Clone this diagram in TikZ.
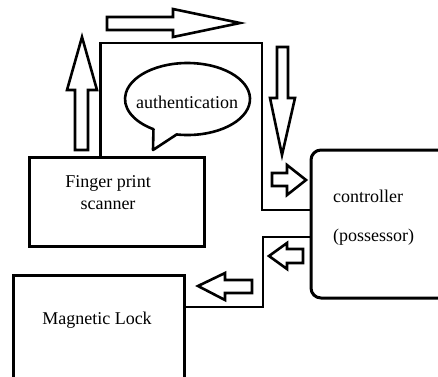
\documentclass[tikz,border=0pt]{standalone}
\usepackage{fontspec}
\setmainfont{Liberation Serif}
\begin{document}
\begin{tikzpicture}[x=1pt,y=-1pt,
    box/.style={draw,line width=3pt,inner sep=0pt},
    wire/.style={line width=2.6pt},
    blockarrow/.style={draw,line width=2.6pt,fill=white,line join=miter},
    txt/.style={font=\fontsize{18}{22}\selectfont,inner sep=0pt}]
        \clip (0,0) rectangle (438,376);

        \node [box,minimum width=175pt,minimum height=89pt] (scanner) at (116.5,201.5) {};
        \node [box,rounded corners=10pt,minimum width=139pt,minimum height=148pt] (ctrl) at (380.5,224) {};
        \node [box,minimum width=171pt,minimum height=115pt] (lock) at (98.5,332.5) {};

        \node [txt,align=center] (scannertext) at (108,193) {Finger print\\scanner};
        \node [txt,align=left,anchor=west,font=\fontsize{18}{39}\selectfont] (ctrltext) at (333,217.5) {controller\\(possessor)};
        \node [txt] (locktext) at (97,320) {Magnetic Lock};

        % speech bubble
        \draw [line width=2.6pt,line join=round] (187.5,99) ++(100:62.5 and 36)
            arc [start angle=100,end angle=-237,x radius=62.5,y radius=36]
            -- (153,150) -- cycle;
        \node [txt] (auth) at (187,102) {authentication};

        % wires
        \draw [wire] ([xshift=73pt]scanner.north west) |- (262,43) |- ([yshift=14pt]ctrl.west);
        \draw [wire] ([yshift=-13pt]ctrl.west) -| (263,307) -- (lock.east |- 0,307);

        % block arrows
        \draw [blockarrow] (75,150) -- (75,90) -- (67,90) -- (82,37) -- (97,90) -- (88,90) -- (88,150) -- cycle;
        \draw [blockarrow] (107,17) -- (173,17) -- (173,9) -- (240,23) -- (173,37) -- (173,30) -- (107,30) -- cycle;
        \draw [blockarrow] (277,47) -- (277,98) -- (270,98) -- (282,155) -- (295,98) -- (288,98) -- (288,47) -- cycle;
        \draw [blockarrow] (272,173) -- (287,173) -- (287,165) -- (306,180) -- (287,195) -- (287,186) -- (272,186) -- cycle;
        \draw [blockarrow] (303,249) -- (287,249) -- (287,243) -- (269,256) -- (287,269) -- (287,263) -- (303,263) -- cycle;
        \draw [blockarrow] (252,280) -- (225,280) -- (225,273) -- (198,286) -- (225,300) -- (225,293) -- (252,293) -- cycle;
      \end{tikzpicture}
\end{document}
